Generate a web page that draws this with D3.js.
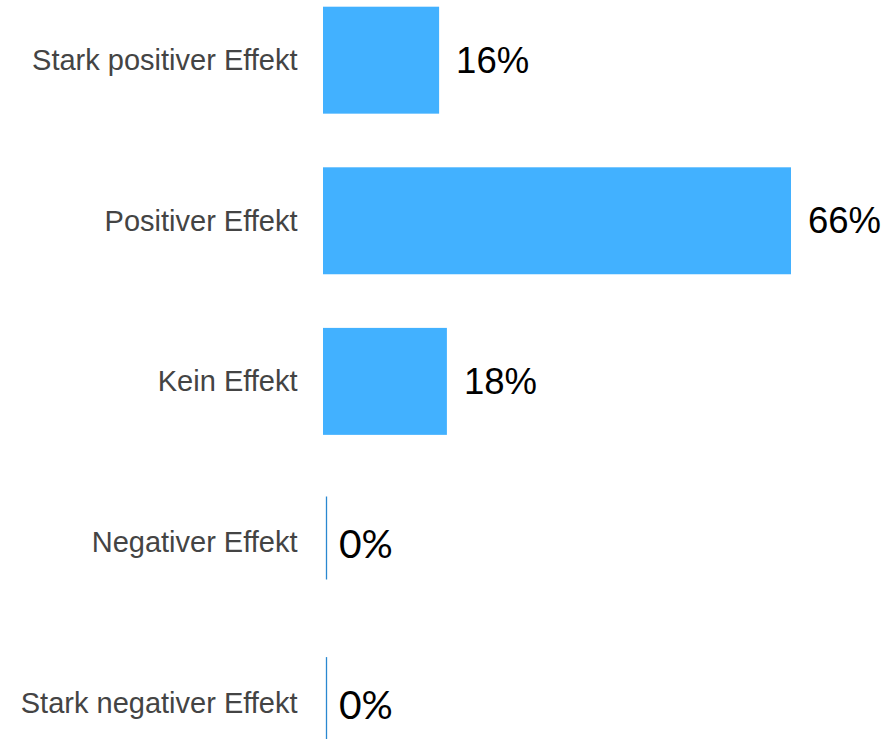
<!DOCTYPE html>
<html>
<head>
<meta charset="utf-8">
<script src="https://cdn.jsdelivr.net/npm/d3@7"></script>
<style>
  html, body { margin: 0; padding: 0; background: #fff; }
  svg { display: block; }
</style>
</head>
<body>
<svg id="chart" width="890" height="739"></svg>
<script>
const categories = ["Stark positiver Effekt", "Positiver Effekt", "Kein Effekt", "Negativer Effekt", "Stark negativer Effekt"];
const values = [16.4, 66.1, 17.5, 0, 0];
const valueLabels = ["16%", "66%", "18%", "0%", "0%"];

const svg = d3.select("#chart");
const x0 = 323;
const x = d3.scaleLinear().domain([0, 100]).range([x0, x0 + 708]);
const step = 160.6;
const r0 = 6.7 - 0.334 * step / 2;
const y = d3.scaleBand().domain(categories).range([r0, r0 + 5 * step]).paddingInner(0.334).paddingOuter(0.167);

const data = categories.map((c, i) => ({ c, v: values[i], label: valueLabels[i] }));

// category labels
svg.append("g").selectAll("text").data(data).join("text")
  .attr("x", 297.5)
  .attr("y", d => y(d.c) + y.bandwidth() / 2)
  .attr("text-anchor", "end")
  .attr("dominant-baseline", "central")
  .attr("font-family", "'Liberation Sans', Arial, sans-serif")
  .attr("font-size", 29)
  .attr("fill", "#444")
  .text(d => d.c);

// bars
svg.append("g").selectAll("rect").data(data.filter(d => d.v > 0)).join("rect")
  .attr("x", x(0))
  .attr("y", d => y(d.c))
  .attr("width", d => x(d.v) - x(0))
  .attr("height", y.bandwidth())
  .attr("fill", "#42b1ff");

// zero lines
svg.append("g").selectAll("line").data(data.filter(d => d.v === 0)).join("line")
  .attr("x1", x(0) + 3.5)
  .attr("x2", x(0) + 3.5)
  .attr("y1", d => y(d.c) + 8)
  .attr("y2", d => y(d.c) + 91)
  .attr("stroke", "#2a88d0")
  .attr("stroke-width", 1.3);

// value labels
svg.append("g").selectAll("text").data(data).join("text")
  .attr("x", d => d.v > 0 ? x(d.v) + 17 : x(0) + 16)
  .attr("y", d => y(d.c) + y.bandwidth() / 2 + (d.v > 0 ? 0 : 1))
  .attr("dominant-baseline", "central")
  .attr("font-family", d => d.v > 0 ? "'Liberation Sans', Arial, sans-serif" : "Lato, 'Open Sans', sans-serif")
  .attr("font-size", d => d.v > 0 ? 36.5 : 39)
  .attr("fill", "#000")
  .text(d => d.label);
</script>
</body>
</html>
